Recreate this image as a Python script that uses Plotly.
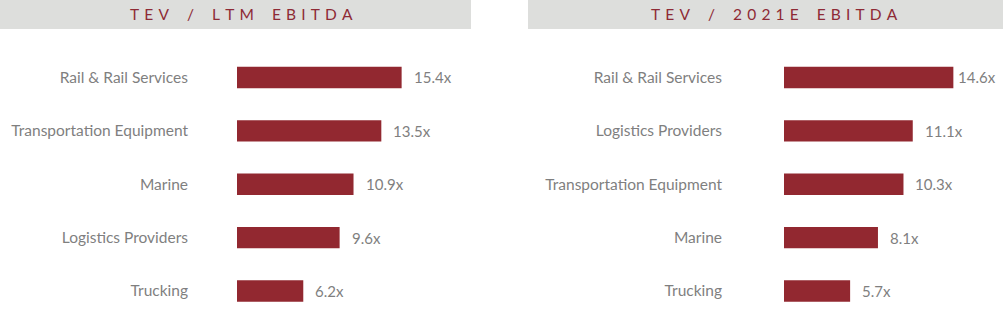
import plotly.graph_objects as go

W, H = 1003, 334

# ---- data ----
left_title = "TEV / LTM EBITDA"
left_categories = ["Rail & Rail Services", "Transportation Equipment", "Marine",
                   "Logistics Providers", "Trucking"]
left_values = [15.4, 13.5, 10.9, 9.6, 6.2]

right_title = "TEV / 2021E EBITDA"
right_categories = ["Rail & Rail Services", "Logistics Providers",
                    "Transportation Equipment", "Marine", "Trucking"]
right_values = [14.6, 11.1, 10.3, 8.1, 5.7]

BAR = "#922830"
GRAY_TXT = "#7f7f7f"
HEAD_BG = "#dddedc"
HEAD_TXT = "#8e2a35"
FONT = "Lato"


def spaced(t):
    words = t.split(" ")
    return "\u2004\u2002\u2004".join("\u2004".join(list(w)) for w in words)


fig = go.Figure()

panels = [
    dict(cats=left_categories, vals=left_values, title=left_title,
         x0=237, x1=471, ppu=10.69, standoff=48, xa="x", ya="y",
         head=(0, 471), headc=241.5),
    dict(cats=right_categories, vals=right_values, title=right_title,
         x0=784, x1=1003, ppu=11.6, standoff=61, xa="x2", ya="y2",
         head=(528, 1003), headc=774.5),
]

ydom = [1 - 317.75 / H, 1 - 50.75 / H]
annotations = []
shapes = []
for i, p in enumerate(panels):
    fig.add_trace(go.Bar(
        x=p["vals"], y=p["cats"], orientation="h",
        marker=dict(color=BAR, line=dict(width=0)),
        width=0.4, xaxis=p["xa"], yaxis=p["ya"], hoverinfo="skip",
    ))
    rng = (p["x1"] - p["x0"]) / p["ppu"]
    sfx = "" if i == 0 else "2"
    fig.layout["xaxis" + sfx] = dict(
        domain=[p["x0"] / W, p["x1"] / W], range=[0, rng], visible=False,
        anchor="y" + sfx, fixedrange=True)
    fig.layout["yaxis" + sfx] = dict(
        domain=ydom, type="category", categoryorder="array",
        categoryarray=p["cats"], range=[4.5, -0.5], anchor="x" + sfx,
        showgrid=False, zeroline=False, showline=False, ticks="",
        ticklabelstandoff=p["standoff"],
        tickfont=dict(family=FONT, size=15.5, color=GRAY_TXT))
    for c, v in zip(p["cats"], p["vals"]):
        end_px = p["x0"] + v * p["ppu"]
        shift = 10 if end_px + 12 + 40 < W else 3
        annotations.append(dict(
            x=v, y=c, xref=p["xa"], yref=p["ya"], text=f"{v:.1f}x",
            showarrow=False, xanchor="left", yanchor="middle", xshift=shift,
            font=dict(family=FONT, size=15, color=GRAY_TXT)))
    shapes.append(dict(type="rect", xref="paper", yref="paper",
                       x0=p["head"][0] / W, x1=p["head"][1] / W,
                       y0=1 - 29 / H, y1=1, fillcolor=HEAD_BG,
                       line=dict(width=0), layer="below"))
    annotations.append(dict(
        x=p["headc"] / W, y=1 - 14.5 / H, xref="paper", yref="paper",
        text=spaced(p["title"]), showarrow=False, xanchor="center",
        yanchor="middle", font=dict(family=FONT, size=15.5, color=HEAD_TXT)))

fig.update_layout(
    width=W, height=H, margin=dict(l=0, r=0, t=0, b=0),
    paper_bgcolor="white", plot_bgcolor="white", showlegend=False,
    annotations=annotations, shapes=shapes, bargap=0.6,
)

fig.write_html("out.html", config={"displayModeBar": False})
